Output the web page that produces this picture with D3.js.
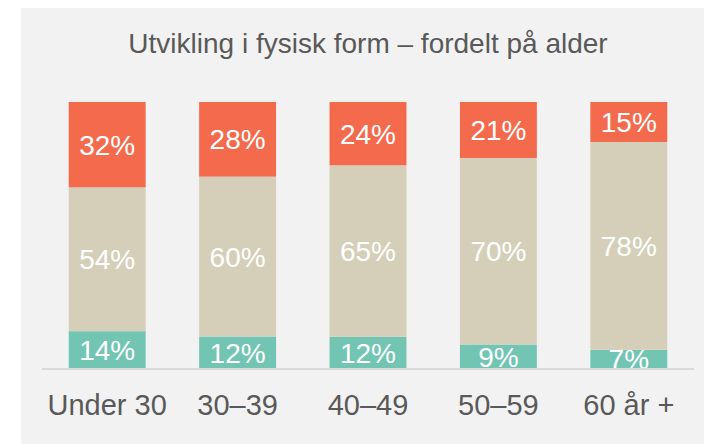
<!DOCTYPE html>
<html>
<head>
<meta charset="utf-8">
<script src="https://cdn.jsdelivr.net/npm/d3@7"></script>
<style>
html,body{margin:0;padding:0;background:#fff;}
svg{display:block;font-family:"Liberation Sans",Arial,sans-serif;}
</style>
</head>
<body>
<svg id="chart" width="704" height="444"></svg>
<script>
const categories = ["Under 30", "30–39", "40–49", "50–59", "60 år +"];
const tealValues = [14, 12, 12, 9, 7];
const beigeValues = [54, 60, 65, 70, 78];
const orangeValues = [32, 28, 24, 21, 15];
const seriesKeys = ["teal", "beige", "orange"];
const seriesColors = ["#72c5b3", "#d5cfb9", "#f36a4c"];
const titleText = "Utvikling i fysisk form – fordelt på alder";

const rows = categories.map((c, i) => ({
  cat: c, teal: tealValues[i], beige: beigeValues[i], orange: orangeValues[i]
}));

const svg = d3.select("#chart");
svg.append("rect").attr("x", 21).attr("y", 8).attr("width", 704 - 21).attr("height", 444 - 8).attr("fill", "#f2f2f2");

svg.append("text")
  .attr("x", 368).attr("y", 53)
  .attr("text-anchor", "middle")
  .attr("font-size", 28).attr("fill", "#595959")
  .text(titleText);

const x = d3.scaleBand().domain(categories).range([42, 694]).paddingInner(0.41).paddingOuter(0.205);
const y = d3.scaleLinear().domain([0, 1]).range([368.5, 102]);
const color = d3.scaleOrdinal().domain(seriesKeys).range(seriesColors);

const stacked = d3.stack().keys(seriesKeys).offset(d3.stackOffsetExpand)(rows);

const g = svg.append("g");
stacked.forEach(s => {
  g.selectAll(null).data(s).enter().append("rect")
    .attr("x", d => x(d.data.cat))
    .attr("width", x.bandwidth())
    .attr("y", d => y(d[1]))
    .attr("height", d => y(d[0]) - y(d[1]))
    .attr("fill", color(s.key));
});
stacked.forEach(s => {
  g.selectAll(null).data(s).enter().append("text")
    .attr("x", d => x(d.data.cat) + x.bandwidth() / 2)
    .attr("y", d => (y(d[0]) + y(d[1])) / 2)
    .attr("dy", "0.36em")
    .attr("text-anchor", "middle")
    .attr("font-size", 28)
    .attr("fill", "#ffffff")
    .text(d => d.data[s.key] + "%");
});

const axis = svg.append("g").attr("transform", "translate(0,369)")
  .call(d3.axisBottom(x).tickSize(0).tickPadding(0));
axis.select(".domain").attr("stroke", "#d9d9d9").attr("stroke-width", 2).attr("d", "M42,0H694");
axis.selectAll(".tick text")
  .attr("y", 46).attr("dy", 0)
  .attr("font-size", 29)
  .attr("font-family", "Liberation Sans, Arial, sans-serif")
  .attr("fill", "#595959");
</script>
</body>
</html>
